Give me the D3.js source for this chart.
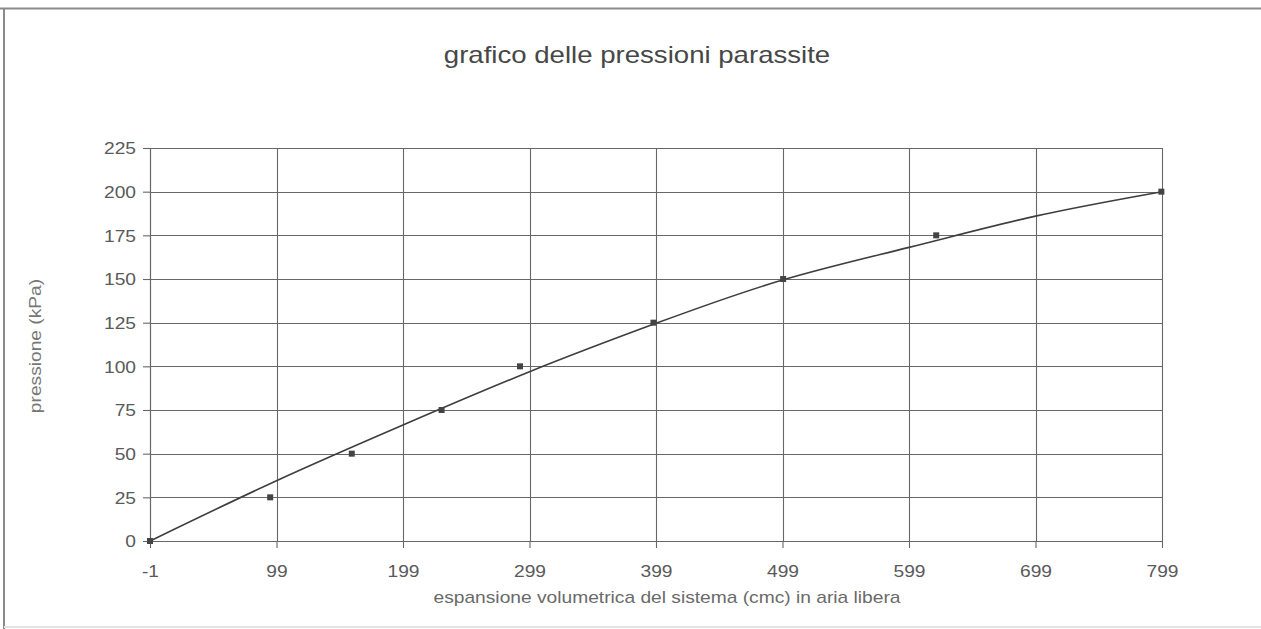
<!DOCTYPE html>
<html>
<head>
<meta charset="utf-8">
<script src="https://cdn.jsdelivr.net/npm/d3@7"></script>
<style>
  html, body { margin: 0; padding: 0; background: #fff; }
  svg { display: block; }
  text { font-family: "Liberation Sans", Arial, sans-serif; }
</style>
</head>
<body>
<svg id="chart" width="1261" height="629"></svg>
<script>
// ---- data ----
const titleText = "grafico delle pressioni parassite";
const xTitle = "espansione volumetrica del sistema (cmc) in aria libera";
const yTitle = "pressione (kPa)";

// measured points (cmc, kPa)
const xValues = [-1, 94, 158.5, 229.5, 291.5, 397, 499.5, 620.5, 798.5];
const yValues = [0, 25, 50, 75, 100, 125, 150, 175, 200];

// trend line at each x tick
const trendX = [-1, 99, 199, 299, 399, 499, 599, 699, 799];
const trendY = [0, 34.5, 66.4, 96.9, 124.6, 149.4, 168.1, 186, 200];

// tick labels
const xTicks = [-1, 99, 199, 299, 399, 499, 599, 699, 799];
const yTicks = [0, 25, 50, 75, 100, 125, 150, 175, 200, 225];

// ---- layout ----
const svg = d3.select("#chart");
const mLeft = 150, mTop = 148, plotW = 1012, plotH = 393;
const stretch = 1.2;

// outer frame (scan edges)
svg.append("line").attr("x1", 0).attr("x2", 1261).attr("y1", 8.5).attr("y2", 8.5)
  .attr("stroke", "#8a8a8a").attr("stroke-width", 2);
svg.append("line").attr("x1", 4).attr("x2", 4).attr("y1", 9).attr("y2", 629)
  .attr("stroke", "#8a8a8a").attr("stroke-width", 2);
svg.append("line").attr("x1", 4).attr("x2", 1261).attr("y1", 627).attr("y2", 627)
  .attr("stroke", "#e2e2e2").attr("stroke-width", 2);

const x = d3.scaleLinear().domain([-1, 799]).range([0, plotW]);
const y = d3.scaleLinear().domain([0, 225]).range([plotH, 0]);

const g = svg.append("g").attr("transform", `translate(${mLeft},${mTop})`);

const gridColor = "#676767";

// grid lines
g.append("g").selectAll("line").data(yTicks).join("line")
  .attr("x1", 0).attr("x2", plotW)
  .attr("y1", d => Math.round(y(d)) + 0.5).attr("y2", d => Math.round(y(d)) + 0.5)
  .attr("stroke", gridColor).attr("stroke-width", 1.1);
g.append("g").selectAll("line").data(xTicks).join("line")
  .attr("y1", 0).attr("y2", plotH)
  .attr("x1", d => Math.round(x(d)) + 0.5).attr("x2", d => Math.round(x(d)) + 0.5)
  .attr("stroke", gridColor).attr("stroke-width", 1.1);

// axes
const fmt = d => String(d);
const yAxis = g.append("g")
  .call(d3.axisLeft(y).tickValues(yTicks).tickSize(7).tickSizeOuter(0).tickFormat(fmt));
const xAxis = g.append("g").attr("transform", `translate(0,${plotH})`)
  .call(d3.axisBottom(x).tickValues(xTicks).tickSize(7).tickSizeOuter(0).tickFormat(fmt));

[yAxis, xAxis].forEach(a => {
  a.select(".domain").attr("stroke", gridColor).attr("stroke-width", 1.1);
  a.selectAll(".tick line").attr("stroke", gridColor).attr("stroke-width", 1.1);
  a.selectAll("text").attr("fill", "#5a5a5a").style("font-size", "16px")
    .style("font-family", "'Liberation Sans', Arial, sans-serif");
});
yAxis.selectAll("text").attr("x", 0).attr("dy", "0.36em")
  .attr("transform", `translate(-14,0) scale(${stretch},1)`);
xAxis.selectAll("text").attr("y", 0).attr("dy", 0)
  .attr("transform", `translate(0,36) scale(${stretch},1)`);

// trend line
const pts = trendX.map((d, i) => [d, trendY[i]]);
g.append("path").datum(pts)
  .attr("fill", "none").attr("stroke", "#3e3e3e").attr("stroke-width", 1.6)
  .attr("d", d3.line().x(d => x(d[0])).y(d => y(d[1])).curve(d3.curveNatural));

// markers
const data = xValues.map((d, i) => ({ x: d, y: yValues[i] }));
g.append("g").selectAll("rect").data(data).join("rect")
  .attr("x", d => x(d.x) - 3).attr("y", d => y(d.y) - 3)
  .attr("width", 6).attr("height", 6)
  .attr("fill", "#444");

// title
svg.append("text").text(titleText)
  .attr("transform", `translate(637,63) scale(${stretch},1)`)
  .attr("text-anchor", "middle").attr("fill", "#474747").style("font-size", "23px");

// x axis title
svg.append("text").text(xTitle)
  .attr("transform", `translate(667,603) scale(${stretch},1)`)
  .attr("text-anchor", "middle").attr("fill", "#6a6a6a").style("font-size", "16px");

// y axis title
svg.append("text").text(yTitle)
  .attr("transform", `translate(41,346) rotate(-90) scale(${stretch},1)`)
  .attr("text-anchor", "middle").attr("fill", "#777").style("font-size", "16px");
</script>
</body>
</html>
